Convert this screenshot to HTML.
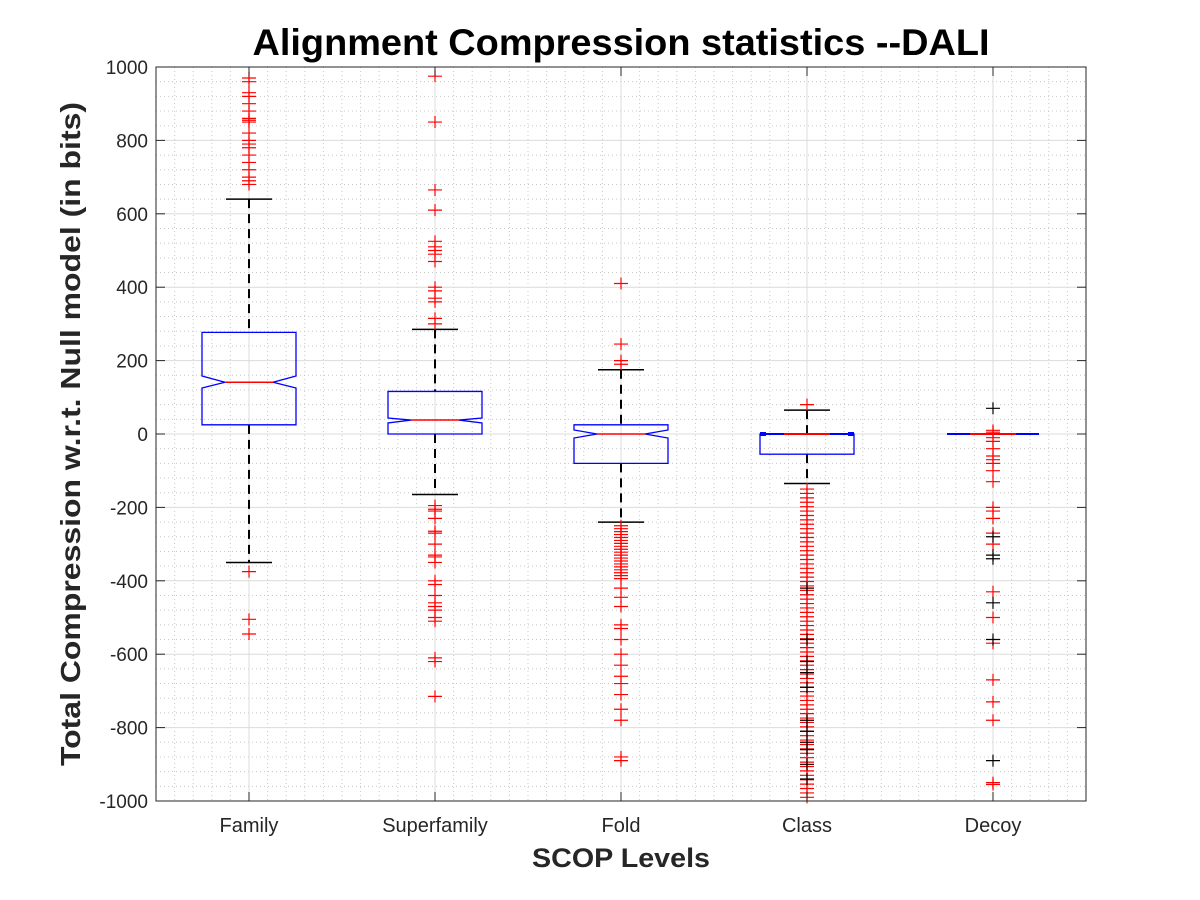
<!DOCTYPE html>
<html><head><meta charset="utf-8"><style>body{margin:0;background:#fff}svg{display:block}text{font-family:"Liberation Sans",Arial,sans-serif;fill:#262626}</style></head>
<body>
<svg id="s" width="1200" height="900" xmlns="http://www.w3.org/2000/svg"></svg>
<script>
const s=document.getElementById('s');let h='';
const X0=156,X1=1086,Y0=67,Y1=801;
const Y=v=>434-v*0.367;
h+=`<rect x="${X0}" y="${Y0}" width="${X1-X0}" height="${Y1-Y0}" fill="#fff"/>`;
for(let v=-1000;v<=1000;v+=40){if(v%200)h+=`<line x1="${X0}" x2="${X1}" y1="${Y(v)}" y2="${Y(v)}" stroke="#c8c8c8" stroke-dasharray="1,3"/>`;}
for(let i=0;i<50;i++){const x=X0+i*18.6;if((i-5)%10)h+=`<line x1="${x}" x2="${x}" y1="${Y0}" y2="${Y1}" stroke="#c8c8c8" stroke-dasharray="1,3"/>`;}
for(let v=-1000;v<=1000;v+=200)h+=`<line x1="${X0}" x2="${X1}" y1="${Y(v)}" y2="${Y(v)}" stroke="#dcdcdc"/>`;
const cx=[249,435,621,807,993];
cx.forEach(x=>h+=`<line x1="${x}" x2="${x}" y1="${Y0}" y2="${Y1}" stroke="#dcdcdc"/>`);
function wh(x,a,b,c,d){
 h+=`<line x1="${x}" x2="${x}" y1="${Y(a)}" y2="${Y(b)}" stroke="#000" stroke-width="2" stroke-dasharray="9,6"/>`;
 h+=`<line x1="${x}" x2="${x}" y1="${Y(c)}" y2="${Y(d)}" stroke="#000" stroke-width="2" stroke-dasharray="9,6"/>`;
 h+=`<line x1="${x-23}" x2="${x+23}" y1="${Y(a)}" y2="${Y(a)}" stroke="#000" stroke-width="1.5"/>`;
 h+=`<line x1="${x-23}" x2="${x+23}" y1="${Y(d)}" y2="${Y(d)}" stroke="#000" stroke-width="1.5"/>`;
}
wh(249,640,277,25,-350);wh(435,285,116,0,-165);wh(621,175,25,-80,-240);wh(807,65,0,-55,-135);
function box(x,q3,q1,m,nt,nb,nw){
 const l=x-47,r=x+47;
 h+=`<polygon points="${l},${Y(q3)} ${r},${Y(q3)} ${r},${nt} ${x+nw},${Y(m)} ${r},${nb} ${r},${Y(q1)} ${l},${Y(q1)} ${l},${nb} ${x-nw},${Y(m)} ${l},${nt}" fill="none" stroke="#00f" stroke-width="1.3"/>`;
 h+=`<line x1="${x-nw}" x2="${x+nw}" y1="${Y(m)}" y2="${Y(m)}" stroke="#f00" stroke-width="1.5"/>`;
}
box(249,277,25,141,376,388,24);
box(435,116,0,38,418,423,24);
box(621,25,-80,0,430,438,24);
h+=`<rect x="760" y="${Y(0)}" width="94" height="${Y(-55)-Y(0)}" fill="none" stroke="#00f" stroke-width="1.3"/>`;
h+=`<line x1="760" x2="854" y1="434" y2="434" stroke="#00f" stroke-width="2"/><rect x="760" y="432" width="6" height="4" fill="#00f"/><rect x="848" y="432" width="6" height="4" fill="#00f"/><line x1="784" x2="830" y1="434" y2="434" stroke="#f00" stroke-width="2"/>`;
h+=`<line x1="947" x2="1039" y1="434" y2="434" stroke="#00f" stroke-width="2"/><line x1="970" x2="1016" y1="434" y2="434" stroke="#f00" stroke-width="2"/>`;
function out(x,vals,col){vals.forEach(v=>{const y=Y(v);h+=`<path d="M${x-7} ${y}H${x+7}M${x} ${y-6}V${y+6}" stroke="${col||'#f00'}" stroke-width="1.2"/>`;});}
out(249,[970,960,930,920,900,880,860,855,850,820,800,790,780,760,740,720,700,690,680,-375,-505,-545]);
out(435,[975,850,665,610,525,510,500,490,470,400,390,370,360,315,300,-195,-205,-210,-230,-265,-270,-300,-330,-335,-350,-400,-410,-440,-460,-470,-480,-500,-510,-610,-620,-715]);
let f=[410,245,200,190];for(let v=-250;v>=-400;v-=8)f.push(v);f.push(-420,-445,-470,-520,-530,-560,-600,-630,-660,-680,-710,-750,-780,-880,-890);out(621,f);
let c=[80];for(let v=-150;v>=-1000;v-=12)c.push(v);out(807,c);out(807,[-420,-560,-620,-650,-690,-780,-810,-840,-860,-900,-940],'#000');
out(993,[10,5,-10,-20,-40,-60,-70,-80,-100,-130,-200,-210,-230,-270,-300,-430,-500,-570,-670,-730,-780,-950,-955]);
out(993,[70,-280,-330,-340,-460,-560,-890],'#000');
h+=`<rect x="${X0}" y="${Y0}" width="${X1-X0}" height="${Y1-Y0}" fill="none" stroke="#262626" stroke-width="1"/>`;
for(let v=-1000;v<=1000;v+=200){const y=Y(v);h+=`<line x1="${X0}" x2="${X0+9}" y1="${y}" y2="${y}" stroke="#262626"/><line x1="${X1-9}" x2="${X1}" y1="${y}" y2="${y}" stroke="#262626"/><text x="148" y="${y+7}" font-size="19" text-anchor="end">${v}</text>`;}
const names=['Family','Superfamily','Fold','Class','Decoy'];
cx.forEach((x,i)=>{h+=`<line x1="${x}" x2="${x}" y1="${Y1}" y2="${Y1-9}" stroke="#262626"/><line x1="${x}" x2="${x}" y1="${Y0}" y2="${Y0+9}" stroke="#262626"/><text x="${x}" y="832" font-size="20" text-anchor="middle">${names[i]}</text>`;});
h+=`<text x="621" y="55" font-size="37" font-weight="bold" text-anchor="middle" textLength="737" lengthAdjust="spacingAndGlyphs" style="fill:#000">Alignment Compression statistics --DALI</text>`;
h+=`<text x="621" y="867" font-size="27" font-weight="bold" text-anchor="middle" textLength="178" lengthAdjust="spacingAndGlyphs">SCOP Levels</text>`;
h+=`<text transform="translate(80,434) rotate(-90)" font-size="28" font-weight="bold" text-anchor="middle" textLength="664" lengthAdjust="spacingAndGlyphs">Total Compression w.r.t. Null model (in bits)</text>`;
s.innerHTML=h;
</script>
</body></html>
